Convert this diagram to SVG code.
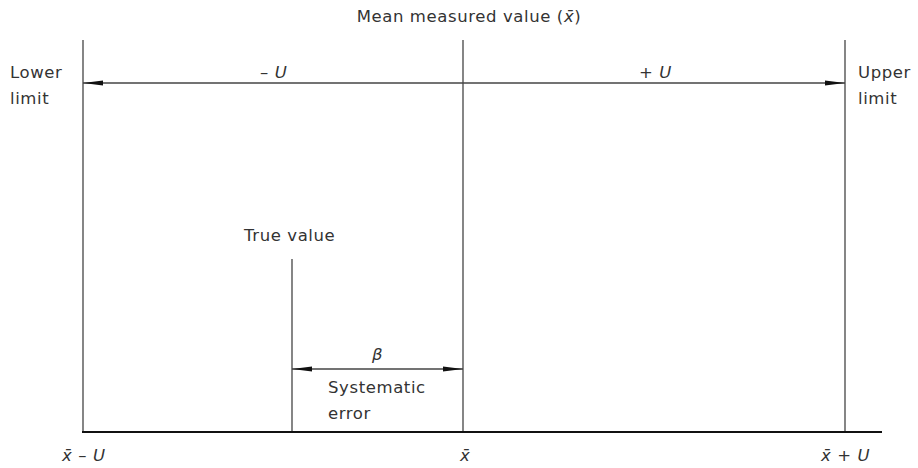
<svg xmlns="http://www.w3.org/2000/svg" width="918" height="468" viewBox="0 0 918 468">
<style>
text{font-family:"DejaVu Sans","Liberation Sans",sans-serif;font-size:16.5px;fill:#333;letter-spacing:0.6px}
.i{font-style:italic}
.ln{stroke:#444;stroke-width:1.3;fill:none}
.base{stroke:#111;stroke-width:2;fill:none}
</style>
<defs>
<marker id="ah" viewBox="0 0 20 6" refX="20" refY="3" markerWidth="20" markerHeight="6" markerUnits="userSpaceOnUse" orient="auto-start-reverse">
<path d="M0,0.5 L20,3 L0,5.5 Z" fill="#111"/>
</marker>
</defs>
<g id="axes">
<line class="ln" x1="83" y1="40" x2="83" y2="432"/>
<line class="ln" x1="463" y1="40" x2="463" y2="432"/>
<line class="ln" x1="845" y1="40" x2="845" y2="432"/>
<line class="ln" x1="292" y1="259" x2="292" y2="432"/>
<line class="base" x1="82" y1="432" x2="882" y2="432"/>
</g>
<g id="connectors">
<line class="ln" x1="83" y1="83" x2="845" y2="83" marker-start="url(#ah)" marker-end="url(#ah)"/>
<line class="ln" x1="292" y1="369" x2="463" y2="369" marker-start="url(#ah)" marker-end="url(#ah)"/>
</g>
<g id="title"><text x="469" y="22" text-anchor="middle">Mean measured value (<tspan class="i">x̄</tspan>)</text></g>
<g id="lower"><text x="10" y="78">Lower</text><text x="10" y="104">limit</text></g>
<g id="upper"><text x="858" y="78">Upper</text><text x="858" y="104">limit</text></g>
<g id="minusU"><text x="260" y="78">– <tspan class="i">U</tspan></text></g>
<g id="plusU"><text x="639" y="78">+ <tspan class="i">U</tspan></text></g>
<g id="true"><text x="244" y="241">True value</text></g>
<g id="beta"><text x="372" y="360" class="i">β</text></g>
<g id="syserr"><text x="328" y="393">Systematic</text><text x="328" y="419">error</text></g>
<g id="l1"><text x="62" y="461" class="i">x̄ <tspan font-style="normal">–</tspan> U</text></g>
<g id="l2"><text x="460" y="461" class="i">x̄</text></g>
<g id="l3"><text x="821" y="461" class="i">x̄ <tspan font-style="normal">+</tspan> U</text></g>
</svg>
